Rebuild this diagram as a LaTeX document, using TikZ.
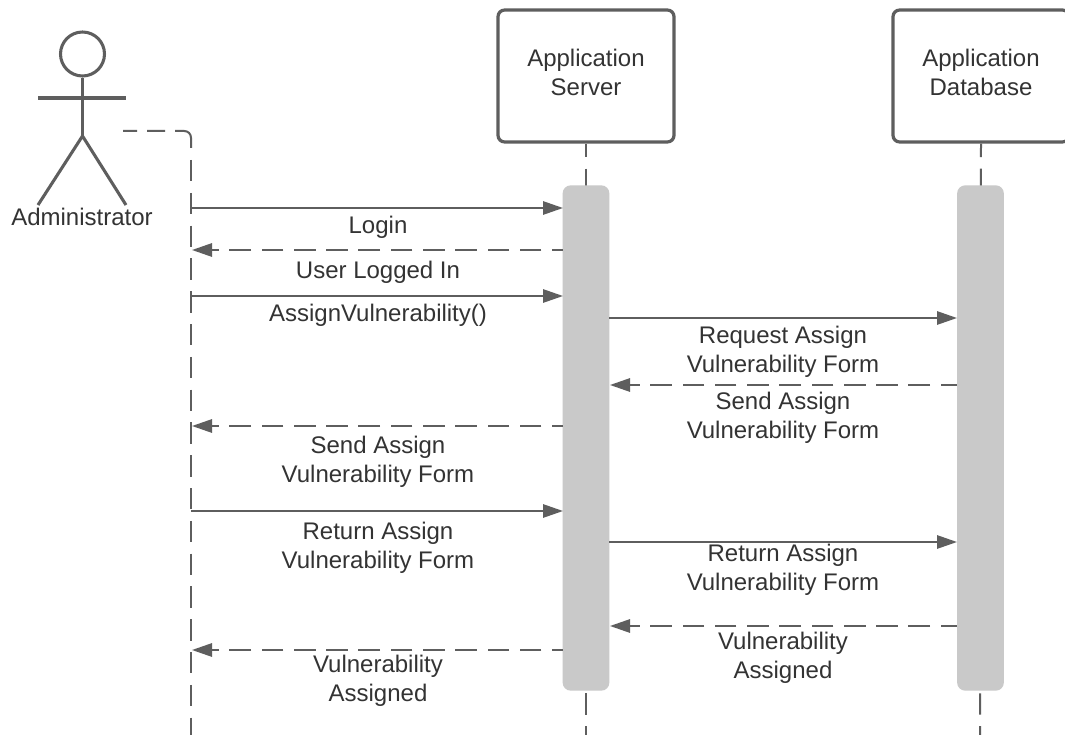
\documentclass[tikz,border=0pt]{standalone}
\usepackage{fontspec}
\setmainfont{Liberation Sans}
\usetikzlibrary{arrows.meta}
\definecolor{ln}{HTML}{5E5E5E}
\definecolor{tx}{HTML}{333333}
\definecolor{barc}{HTML}{C9C9C9}
\tikzset{
 x=0.75pt,y=-0.75pt,
 lbl/.style={font=\fontsize{18pt}{21.8pt}\selectfont,text=tx,align=center,inner sep=0pt},
 life/.style={draw=ln,line width=1.5pt,dash pattern=on 16pt off 8.6pt,dash phase=5.85pt},
 lifetop/.style={draw=ln,line width=1.5pt,dash pattern=on 10.5pt off 7.5pt on 13.5pt off 7.5pt on 25pt off 30pt},
 msg/.style={draw=ln,line width=1.4pt,-{Triangle[length=15pt,width=10pt,fill=ln]}},
 ret/.style={msg,dash pattern=on 16.2pt off 8pt,dash phase=8pt},
 retb/.style={msg,dash pattern=on 16.2pt off 8pt,dash phase=4pt},
 boxs/.style={draw=ln,line width=2.4pt,rounded corners=5pt,fill=white,minimum width=132pt,minimum height=99pt,inner sep=0pt},
 barn/.style={fill=barc,draw=none,rounded corners=6pt,minimum width=35pt,minimum height=379pt,inner sep=0pt},
 figl/.style={draw=ln,line width=2.3pt}
}
\begin{document}
\begin{tikzpicture}
\useasboundingbox (0,0) rectangle (1065,735);
\fill[white] (0,0) rectangle (1065,735);
% lifelines
\coordinate (lA0) at (123,131);
\coordinate (lAc) at (191,131);
\coordinate (lAm) at (191,148);
\coordinate (lAv) at (191,160);
\coordinate (lAe) at (191,735);
\coordinate (lSe) at (586,735);
\coordinate (lDe) at (980,735);
\node[boxs] (srv) at (586,76) {};
\node[boxs] (dbb) at (981,76) {};
\draw[life] (srv.south) -- (lSe);
\draw[life] (dbb.south) -- (lDe);
\draw[lifetop,rounded corners=5pt] (lA0) -- (lAc) -- (lAm);
\draw[life,dash phase=0pt] (lAv) -- (lAe);
\node[barn] (bs) at (586,438) {};
\node[barn] (bd) at (980.5,438) {};
\node[lbl] (srvt) at (586,72) {Application\\Server};
\node[lbl] (dbt) at (981,72) {Application\\Database};
% actor
\node[circle,draw=ln,line width=2.3pt,minimum size=33pt,inner sep=0pt] (head) at (82.5,54) {};
\coordinate (hip) at (82.5,136);
\coordinate (armL) at (38,98);
\coordinate (armR) at (126,98);
\coordinate (legL) at (38,205);
\coordinate (legR) at (126,205);
\draw[figl] (head.south) -- (hip);
\draw[figl] (armL) -- (armR);
\draw[figl] (legL) -- (hip) -- (legR);
\node[lbl] (adm) at (82,217) {Administrator};
% message anchors
\coordinate (a1) at (191,208); \coordinate (s1) at (563,208);
\coordinate (a2) at (192,250); \coordinate (s2) at (563,250);
\coordinate (a3) at (191,296); \coordinate (s3) at (563,296);
\coordinate (s4) at (609,318); \coordinate (d4) at (957,318);
\coordinate (s5) at (610,385); \coordinate (d5) at (957,385);
\coordinate (a6) at (192,426); \coordinate (s6) at (563,426);
\coordinate (a7) at (191,511); \coordinate (s7) at (563,511);
\coordinate (s8) at (609,542); \coordinate (d8) at (957,542);
\coordinate (s9) at (610,626); \coordinate (d9) at (957,626);
\coordinate (a10) at (192,650); \coordinate (s10) at (563,650);
\draw[msg] (a1) -- (s1);
\draw[ret] (s2) -- (a2);
\draw[msg] (a3) -- (s3);
\draw[msg] (s4) -- (d4);
\draw[retb] (d5) -- (s5);
\draw[ret] (s6) -- (a6);
\draw[msg] (a7) -- (s7);
\draw[msg] (s8) -- (d8);
\draw[retb] (d9) -- (s9);
\draw[ret] (s10) -- (a10);
% labels
\node[lbl] (t1) at (378,227) {Login};
\node[lbl] (t2) at (378,272) {User Logged In};
\node[lbl] (t3) at (378,315) {AssignVulnerability()};
\node[lbl] (t4) at (783,352) {Request Assign\\Vulnerability Form};
\node[lbl] (t5) at (783,417.5) {Send Assign\\Vulnerability Form};
\node[lbl] (t6) at (378,461.5) {Send Assign\\Vulnerability Form};
\node[lbl] (t7) at (378,548) {Return Assign\\Vulnerability Form};
\node[lbl] (t8) at (783,570) {Return Assign\\Vulnerability Form};
\node[lbl] (t9) at (783,658) {Vulnerability\\Assigned};
\node[lbl] (t10) at (378,681) {Vulnerability\\Assigned};
\end{tikzpicture}
\end{document}
